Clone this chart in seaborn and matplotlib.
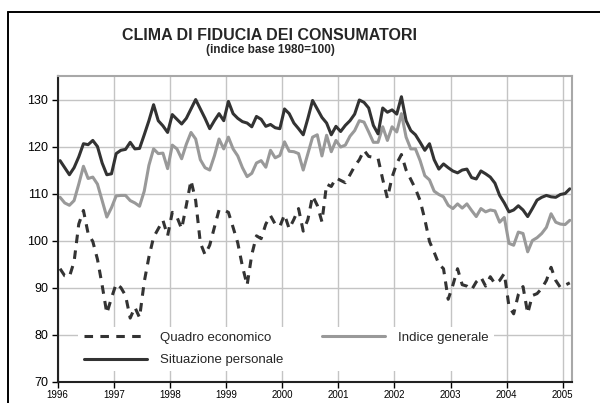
import numpy as np
import pandas as pd
import matplotlib
matplotlib.use("Agg")
import matplotlib.pyplot as plt
import seaborn as sns
from matplotlib.lines import Line2D

# dati mensili, gennaio 1996 - febbraio 2005
quadro_economico = [
    94.0, 92.5, 92.3, 95.5, 103.5, 106.4, 101.5, 99.8, 96.0, 90.5, 84.5, 87.8,   # 1996
    90.8, 90.0, 88.3, 83.5, 85.8, 83.6, 91.2, 96.5, 100.7, 102.5, 104.3, 101.0,  # 1997
    106.0, 105.0, 102.5, 107.5, 112.8, 108.5, 99.5, 97.0, 99.0, 102.8, 106.5, 106.5,  # 1998
    106.0, 102.8, 99.5, 94.5, 90.5, 97.0, 101.0, 100.4, 103.5, 105.3, 103.5, 103.0,  # 1999
    105.5, 102.5, 104.5, 106.8, 102.0, 104.5, 109.5, 107.5, 104.0, 112.0, 111.5, 113.3,  # 2000
    112.8, 112.3, 114.0, 115.8, 117.2, 119.2, 117.9, 117.7, 117.5, 113.0, 109.0, 113.5,  # 2001
    116.4, 118.3, 115.0, 113.0, 111.0, 108.5, 104.5, 99.8, 97.5, 95.0, 94.0, 87.5,  # 2002
    90.5, 94.0, 90.6, 90.3, 89.5, 91.2, 92.2, 90.3, 92.3, 90.8, 91.5, 93.0,  # 2003
    86.0, 84.4, 88.5, 90.2, 84.5, 88.3, 88.7, 89.8, 91.5, 94.3, 91.5, 90.0,  # 2004
    90.5, 91.0,  # 2005
]
situazione_personale = [
    117.0, 115.5, 114.0, 115.5, 117.8, 120.6, 120.4, 121.3, 120.0, 116.5, 114.0, 114.2,
    118.5, 119.2, 119.4, 120.9, 119.5, 119.6, 122.5, 125.5, 128.9, 125.5, 124.4, 123.0,
    126.8, 125.8, 124.8, 126.0, 128.0, 130.0, 128.0, 126.0, 123.8, 125.5, 127.0, 125.5,
    129.6, 127.0, 126.0, 125.3, 125.0, 124.2, 126.4, 125.8, 124.3, 124.7, 124.0, 123.8,
    128.0, 127.0, 125.0, 123.8, 122.5, 126.0, 129.8, 128.0, 126.2, 125.0, 122.5, 124.3,
    123.2, 124.5, 125.5, 126.9, 129.9, 129.4, 128.2, 124.5, 122.7, 128.2, 127.3, 127.8,
    126.9, 130.6, 125.5, 123.4, 122.5, 120.9, 119.2, 120.6, 117.2, 115.2, 116.3, 115.5,
    114.8, 114.4, 115.0, 115.2, 113.4, 113.1, 114.8, 114.2, 113.5, 112.2, 109.6, 108.0,
    106.1, 106.5, 107.4, 106.5, 105.1, 106.8, 108.6, 109.2, 109.6, 109.3, 109.2, 109.8,
    110.0, 111.0,
]
indice_generale = [
    109.2, 108.0, 107.5, 108.5, 112.0, 115.8, 113.2, 113.5, 112.0, 108.5, 105.0, 107.0,
    109.5, 109.6, 109.6, 108.5, 108.0, 107.3, 110.5, 116.0, 119.5, 118.5, 118.6, 115.3,
    120.3, 119.5, 117.4, 120.5, 123.0, 121.6, 117.2, 115.5, 115.0, 118.0, 121.6, 119.5,
    122.0, 119.5, 118.0, 115.5, 113.6, 114.3, 116.5, 117.0, 115.6, 119.2, 117.6, 118.1,
    121.0, 119.0, 118.9, 118.5, 115.0, 118.5, 122.0, 122.5, 118.0, 122.4, 118.9, 121.3,
    119.9, 120.3, 122.2, 123.4, 125.5, 125.2, 123.1, 120.9, 120.9, 124.2, 121.3, 124.2,
    123.1, 127.0, 122.0, 119.5, 119.5, 117.0, 113.8, 112.9, 110.5, 109.8, 109.3, 107.5,
    106.8, 107.8, 106.9, 107.8, 106.4, 105.1, 106.8, 106.1, 106.5, 106.3, 103.9, 104.9,
    99.4, 99.0, 101.8, 101.5, 97.6, 100.0, 100.6, 101.5, 102.8, 105.7, 103.9, 103.5,
    103.4, 104.3,
]
anni = list(range(1996, 2006))
livelli = list(range(70, 131, 10))

n = len(situazione_personale)
df = pd.DataFrame({
    't': 1996 + (np.arange(n) + 0.5) / 12,
    'quadro': quadro_economico,
    'situazione': situazione_personale,
    'indice': indice_generale,
})

sns.set_style('white')
plt.rcParams['font.family'] = ['Liberation Sans', 'DejaVu Sans']

fig = plt.figure(figsize=(6, 4.03), dpi=100)
ax = fig.add_axes([0.0962, 0.0533, 0.8567, 0.758])

col_nero = '#333333'
col_grigio = '#999999'
sns.lineplot(data=df, x='t', y='indice', color=col_grigio, lw=2.2, ax=ax)
sns.lineplot(data=df, x='t', y='situazione', color=col_nero, lw=2.2, ax=ax)
sns.lineplot(data=df, x='t', y='quadro', color=col_nero, lw=2.2,
             linestyle=(0, (2.8, 2.4)), ax=ax)

ax.set_xlim(1996, 2005.16)
ax.set_ylim(70, 135)
ax.set_xticks(anni)
ax.set_yticks(livelli)
ax.set_xlabel('')
ax.set_ylabel('')
ax.grid(True, color='#c4c4c4', lw=1)
ax.set_axisbelow(True)

for s in ['left', 'bottom']:
    ax.spines[s].set_color('#222222')
    ax.spines[s].set_linewidth(1.5)
for s in ['top', 'right']:
    ax.spines[s].set_color('#a8a8a8')
    ax.spines[s].set_linewidth(1.5)

ax.tick_params(axis='x', bottom=True, direction='out', length=4, width=1,
               labelsize=7, pad=2, colors='black')
ax.tick_params(axis='y', left=True, direction='out', length=4, width=1,
               labelsize=9, pad=3, colors='black')

handles = [
    Line2D([], [], color=col_nero, lw=2.2, linestyle=(0, (2.8, 2.4))),
    Line2D([], [], color=col_nero, lw=2.2),
    Line2D([], [], color=col_grigio, lw=2.2),
]
etichette = ['Quadro economico', 'Situazione personale', 'Indice generale']
leg = ax.legend(handles, etichette, ncol=2, loc='upper left',
                bbox_to_anchor=(0.04, 0.18), borderaxespad=0,
                frameon=True, facecolor='white', edgecolor='none',
                framealpha=1, fancybox=False, fontsize=9.5,
                handlelength=4.8, handletextpad=1.0, columnspacing=2.9,
                labelspacing=0.75, borderpad=0.4)

# cornice esterna
fig.add_artist(Line2D([8 / 600, 8 / 600], [0, 1 - 12 / 403],
                      transform=fig.transFigure, color='black', lw=1.4))
fig.add_artist(Line2D([8 / 600, 1], [1 - 12 / 403, 1 - 12 / 403],
                      transform=fig.transFigure, color='black', lw=1.4))

fig.text(0.45, 1 - 35 / 403, 'CLIMA DI FIDUCIA DEI CONSUMATORI',
         ha='center', va='center', fontsize=11.5, fontweight='bold')
fig.text(0.45, 1 - 50 / 403, '(indice base 1980=100)',
         ha='center', va='center', fontsize=8.5, fontweight='bold')

fig.savefig('out.png', dpi=100)
